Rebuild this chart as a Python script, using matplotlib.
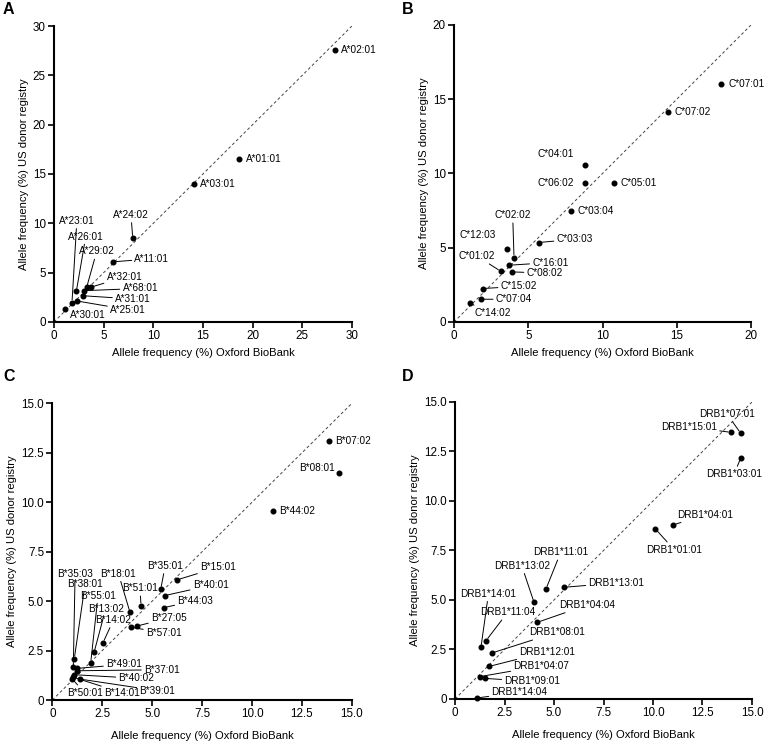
#!/usr/bin/env python3
# -*- coding: utf-8 -*-
"""HLA allele frequencies: Oxford BioBank vs US donor registry (4 panels)."""
import matplotlib
matplotlib.use("Agg")
import matplotlib.pyplot as plt
from matplotlib.ticker import FuncFormatter

plt.rcParams['font.family'] = ['Liberation Sans', 'DejaVu Sans']

# ---- data: (allele, Oxford BioBank %, US donor registry %) ----
a_alleles = ["A*02:01", "A*01:01", "A*03:01", "A*24:02", "A*11:01", "A*32:01", "A*68:01",
             "A*29:02", "A*31:01", "A*25:01", "A*30:01", "A*23:01", "A*26:01"]
a_obb = [28.25, 18.6, 14.07, 7.93, 5.98, 3.69, 2.99, 3.29, 2.89, 2.28, 1.14, 1.81, 2.25]
a_us = [27.6, 16.5, 14.0, 8.5, 6.1, 3.52, 3.17, 3.52, 2.66, 2.13, 1.32, 1.96, 3.11]

b_alleles = ["C*07:01", "C*07:02", "C*04:01", "C*06:02", "C*05:01", "C*03:04", "C*03:03",
             "C*12:03", "C*02:02", "C*16:01", "C*08:02", "C*01:02", "C*15:02", "C*07:04",
             "C*14:02"]
b_obb = [18.0, 14.41, 8.8, 8.8, 10.77, 7.88, 5.70, 3.57, 4.04, 3.68, 3.9, 3.14, 1.93, 1.82, 1.05]
b_us = [16.0, 14.13, 10.6, 9.33, 9.39, 7.5, 5.35, 4.88, 4.34, 3.82, 3.37, 3.42, 2.25, 1.53, 1.26]

c_alleles = ["B*07:02", "B*08:01", "B*44:02", "B*15:01", "B*35:01", "B*40:01", "B*44:03",
             "B*51:01", "B*18:01", "B*27:05", "B*57:01", "B*14:02", "B*13:02", "B*55:01",
             "B*38:01", "B*35:03", "B*49:01", "B*37:01", "B*40:02", "B*39:01", "B*14:01",
             "B*50:01"]
c_obb = [13.86, 14.33, 11.07, 6.26, 5.43, 5.63, 5.58, 4.44, 3.89, 4.24, 3.92, 2.54, 2.09, 1.92,
         1.10, 1.05, 1.25, 1.25, 1.10, 1.37, 1.05, 1.0]
c_us = [13.11, 11.48, 9.56, 6.08, 5.61, 5.28, 4.67, 4.77, 4.43, 3.74, 3.68, 2.90, 2.41, 1.87,
        2.09, 1.65, 1.60, 1.48, 1.28, 1.06, 1.15, 1.06]

d_alleles = ["DRB1*07:01", "DRB1*15:01", "DRB1*03:01", "DRB1*04:01", "DRB1*01:01",
             "DRB1*13:01", "DRB1*11:01", "DRB1*13:02", "DRB1*04:04", "DRB1*14:01",
             "DRB1*11:04", "DRB1*08:01", "DRB1*12:01", "DRB1*04:07", "DRB1*09:01",
             "DRB1*14:04"]
d_obb = [14.43, 13.92, 14.43, 11.02, 10.11, 5.49, 4.60, 3.99, 4.15, 1.31, 1.57, 1.85, 1.74,
         1.26, 1.50, 1.10]
d_us = [13.42, 13.47, 12.17, 8.79, 8.60, 5.64, 5.57, 4.88, 3.87, 2.61, 2.95, 2.32, 1.65,
        1.13, 1.04, 0.05]

# ---- label layout: (x, y, ha, leader line) in data units, same order as above ----
a_lab = [(28.9, 27.6, 'left', 0), (19.3, 16.5, 'left', 0), (14.7, 14.0, 'left', 0),
         (7.75, 10.85, 'center', 1), (8.1, 6.4, 'left', 1), (5.3, 4.55, 'left', 1),
         (6.9, 3.4, 'left', 1), (4.3, 7.15, 'center', 1), (6.15, 2.33, 'left', 1),
         (5.64, 1.25, 'left', 1), (1.6, 0.74, 'left', 0), (2.3, 10.25, 'center', 1),
         (3.2, 8.66, 'center', 1)]
b_lab = [(18.47, 16.0, 'left', 0), (14.88, 14.13, 'left', 0), (8.1, 11.28, 'right', 0),
         (8.04, 9.33, 'right', 0), (11.22, 9.39, 'left', 0), (8.33, 7.5, 'left', 0),
         (6.91, 5.57, 'left', 1), (0.34, 5.89, 'left', 0), (3.95, 7.19, 'center', 1),
         (5.27, 4.0, 'left', 1), (4.89, 3.30, 'left', 1), (1.55, 4.43, 'center', 1),
         (3.14, 2.40, 'left', 1), (2.81, 1.53, 'left', 1), (1.35, 0.61, 'left', 1)]
c_lab = [(14.16, 13.11, 'left', 0), (14.16, 11.75, 'right', 0), (11.37, 9.56, 'left', 0),
         (7.40, 6.71, 'left', 1), (5.65, 6.78, 'center', 1), (7.03, 5.80, 'left', 1),
         (6.26, 5.02, 'left', 1), (4.39, 5.65, 'center', 1), (3.31, 6.39, 'center', 1),
         (4.94, 4.15, 'left', 1), (4.69, 3.40, 'left', 1), (3.06, 4.05, 'center', 1),
         (2.67, 4.60, 'center', 1), (2.29, 5.28, 'center', 1), (1.64, 5.85, 'center', 1),
         (1.14, 6.39, 'center', 1), (2.69, 1.80, 'left', 1), (4.59, 1.53, 'left', 1),
         (3.31, 1.10, 'left', 1), (4.36, 0.47, 'left', 1), (2.59, 0.37, 'left', 1),
         (0.72, 0.37, 'left', 1)]
d_lab = [(13.74, 14.39, 'center', 1), (13.23, 13.74, 'right', 1), (14.1, 11.36, 'center', 1),
         (11.21, 9.31, 'left', 1), (11.07, 7.54, 'center', 1), (6.74, 5.86, 'left', 1),
         (5.34, 7.41, 'center', 1), (3.37, 6.73, 'center', 1), (5.28, 4.75, 'left', 1),
         (1.69, 5.32, 'center', 1), (2.66, 4.38, 'center', 1), (3.74, 3.37, 'left', 1),
         (3.25, 2.39, 'left', 1), (2.95, 1.67, 'left', 1), (2.49, 0.89, 'left', 1),
         (1.84, 0.34, 'left', 1)]


def fmt_int(v, pos):
    return f"{v:g}"


def fmt_dec(v, pos):
    return "0" if abs(v) < 1e-9 else f"{v:.1f}"


def panel(ax, alleles, xs, ys, labs, vmax, step, fmt):
    ax.plot([0, vmax], [0, vmax], ls=(0, (3, 2.5)), lw=0.7, color='#444444', zorder=1)
    ax.scatter(xs, ys, s=11, color='black', zorder=3, clip_on=False)
    for name, x, y, (tx, ty, ha, lead) in zip(alleles, xs, ys, labs):
        arrow = dict(arrowstyle='-', lw=0.7, color='black', shrinkA=0, shrinkB=2) if lead else None
        ax.annotate(name, xy=(x, y), xytext=(tx, ty), ha=ha, va='center', fontsize=7.2,
                    arrowprops=arrow, annotation_clip=False, zorder=4)
    ax.set_xlim(0, vmax)
    ax.set_ylim(0, vmax)
    ticks = [i * step for i in range(int(round(vmax / step)) + 1)]
    ax.set_xticks(ticks)
    ax.set_yticks(ticks)
    ax.xaxis.set_major_formatter(FuncFormatter(fmt))
    ax.yaxis.set_major_formatter(FuncFormatter(fmt))
    for s in ('top', 'right'):
        ax.spines[s].set_visible(False)
    for s in ('left', 'bottom'):
        ax.spines[s].set_linewidth(1.5)
    ax.tick_params(direction='out', length=4, width=1.2, labelsize=8.4, pad=2)
    ax.set_xlabel('Allele frequency (%) Oxford BioBank', fontsize=8.1, labelpad=4)
    ax.set_ylabel('Allele frequency (%) US donor registry', fontsize=8.1, labelpad=3)


fig = plt.figure(figsize=(7.65, 7.41), dpi=100)
axA = fig.add_axes([0.0706, 0.5655, 0.3894, 0.3994])
axB = fig.add_axes([0.5935, 0.5655, 0.3882, 0.4008])
axC = fig.add_axes([0.0684, 0.0553, 0.3916, 0.4004])
axD = fig.add_axes([0.5948, 0.0567, 0.3882, 0.4008])

panel(axA, a_alleles, a_obb, a_us, a_lab, 30, 5, fmt_int)
panel(axB, b_alleles, b_obb, b_us, b_lab, 20, 5, fmt_int)
panel(axC, c_alleles, c_obb, c_us, c_lab, 15, 2.5, fmt_dec)
panel(axD, d_alleles, d_obb, d_us, d_lab, 15, 2.5, fmt_dec)

axC.xaxis.labelpad = 8
axD.xaxis.labelpad = 8

for letter, (x, y) in zip('ABCD', [(3, 2), (402, 2), (3, 369), (402, 369)]):
    fig.text(x / 765, 1 - y / 741, letter, fontsize=11.5, fontweight='bold', va='top', ha='left')

fig.savefig('out.png', dpi=100)
